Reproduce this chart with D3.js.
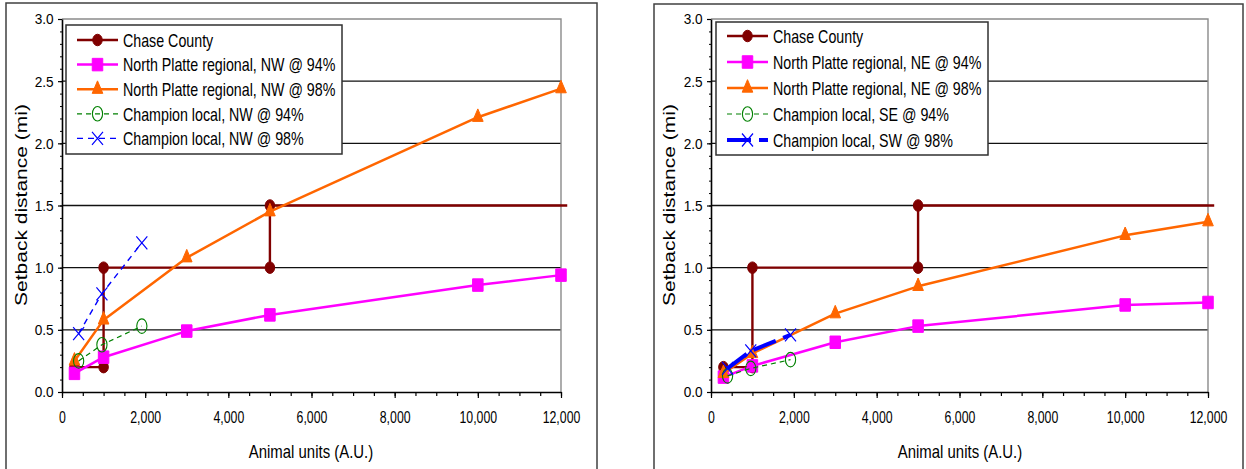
<!DOCTYPE html>
<html><head><meta charset="utf-8">
<script src="https://cdn.jsdelivr.net/npm/d3@7"></script>
<style>
html,body{margin:0;padding:0;background:#fff;}
svg{display:block;font-family:"Liberation Sans",Arial,Helvetica,sans-serif;}
text{white-space:pre;fill:#000;}
</style></head><body>
<svg id="chart" width="1246" height="469"></svg>
<script>
// ---------- data ----------
const yTickValues = [0, 0.5, 1.0, 1.5, 2.0, 2.5, 3.0];
const yTickLabels = ["0.0", "0.5", "1.0", "1.5", "2.0", "2.5", "3.0"];
const xTickValues = [0, 2000, 4000, 6000, 8000, 10000, 12000];
const xTickLabels = ["0", "2,000", "4,000", "6,000", "8,000", "10,000", "12,000"];

const chaseX = [300, 1000, 1000, 5000, 5000, 12150];
const chaseY = [0.2, 0.2, 1.0, 1.0, 1.5, 1.5];
const chaseMarked = [true, true, true, true, true, false];

const platteX = [300, 1000, 3000, 5000, 10000, 12000];
const platteNW94 = [0.15, 0.28, 0.49, 0.62, 0.86, 0.94];
const platteNW98 = [0.25, 0.58, 1.08, 1.45, 2.21, 2.44];
const platteNE94 = [0.12, 0.21, 0.40, 0.53, 0.70, 0.72];
const platteNE98 = [0.15, 0.31, 0.63, 0.85, 1.26, 1.37];

const championX = [400, 960, 1920];
const championNW94 = [0.25, 0.38, 0.53];
const championNW98 = [0.47, 0.79, 1.20];
const championSE94 = [0.13, 0.19, 0.26];
const championSW98 = [0.19, 0.33, 0.46];

const leftNames = ["Chase County", "North Platte regional, NW @ 94%", "North Platte regional, NW @ 98%",
                   "Champion local, NW @ 94%", "Champion local, NW @ 98%"];
const rightNames = ["Chase County", "North Platte regional, NE @ 94%", "North Platte regional, NE @ 98%",
                    "Champion local, SE @ 94%", "Champion local, SW @ 98%"];

const xTitle = "Animal units (A.U.)";
const yTitle = "Setback distance (mi)";

// ---------- styles ----------
const timesType = {draw(c){ c.moveTo(-5,-5); c.lineTo(5,5); c.moveTo(-5,5); c.lineTo(5,-5); }};
const markerDefs = {
  dot:    {type: d3.symbolCircle, size: Math.PI*25, sx: 0.95, sy: 1.15, filled: true},
  square: {type: d3.symbolSquare, size: 100, sx: 1.05, sy: 1.25, filled: true},
  tri:    {type: d3.symbolTriangle, size: 57.7, sx: 0.92, sy: 1.25, filled: true},
  ring:   {type: d3.symbolCircle, size: Math.PI*25, sx: 1.02, sy: 1.45, filled: false},
  times:  {type: timesType, size: 64, sx: 1.1, sy: 1.3, filled: false}
};

function seriesFor(side){
  const left = side === "left";
  return [
    {xs: chaseX, ys: chaseY, marked: chaseMarked, color: "#800000", width: 2.4, dash: null, marker: "dot", mstroke: 1},
    {xs: platteX, ys: left ? platteNW94 : platteNE94, color: "#FF00FF", width: 2.5, dash: null, marker: "square", mstroke: 1},
    {xs: platteX, ys: left ? platteNW98 : platteNE98, color: "#FF6600", width: 2.5, dash: null, marker: "tri", mstroke: 1},
    {xs: championX, ys: left ? championNW94 : championSE94, color: "#008000", width: 1.2, dash: "5,4", marker: "ring", mstroke: 1.1},
    {xs: championX, ys: left ? championNW98 : championSW98, color: "#0000FF",
      width: left ? 1.4 : 4, dash: left ? "6,5" : "24,8", marker: "times", mstroke: 1.2}
  ];
}

const panels = [
  {side: "left", names: leftNames, frame: {x: 6, y: 3, w: 591}, x0: 62, x1: 561,
   legend: {x: 66, y: 25, w: 276, h: 129, row0: 15, step: 24.6}, yTitleX: 26.5, xTitleX: 311},
  {side: "right", names: rightNames, frame: {x: 654, y: 4, w: 589}, x0: 711, x1: 1208,
   legend: {x: 716, y: 22, w: 272, h: 133, row0: 14, step: 26}, yTitleX: 675, xTitleX: 960}
];

const svg = d3.select("#chart");
const yBottom = 392, yTop = 19;

function drawMarker(g, kind, color, sw, px, py){
  const m = markerDefs[kind];
  g.append("path")
    .attr("d", d3.symbol().type(m.type).size(m.size)())
    .attr("transform", `translate(${px},${py}) scale(${m.sx},${m.sy})`)
    .attr("fill", m.filled ? color : "none")
    .attr("stroke", color)
    .attr("stroke-width", sw)
    .attr("vector-effect", "non-scaling-stroke");
}

panels.forEach(p => {
  const g = svg.append("g");
  const x = d3.scaleLinear().domain([0, 12000]).range([p.x0, p.x1]);
  const y = d3.scaleLinear().domain([0, 3]).range([yBottom, yTop]);

  // outer frame
  g.append("rect").attr("x", p.frame.x).attr("y", p.frame.y).attr("width", p.frame.w).attr("height", 520)
    .attr("fill", "none").attr("stroke", "#404040").attr("stroke-width", 1.5);

  // gridlines
  g.append("g").selectAll("line").data(yTickValues.filter(v => v > 0 && v < 3)).join("line")
    .attr("x1", x(0)).attr("x2", x(12000)).attr("y1", d => y(d)).attr("y2", d => y(d))
    .attr("stroke", "#111").attr("stroke-width", 1.3);
  // plot area top and right border
  g.append("path")
    .attr("d", `M${x(0)},${y(3)}H${x(12000)}V${y(0)}`)
    .attr("fill", "none").attr("stroke", "#8a8a8a").attr("stroke-width", 1.4);

  // minor ticks
  g.append("g").attr("transform", `translate(${x(0)},0)`)
    .call(d3.axisLeft(y).tickValues(d3.range(0, 31).map(i => i / 10)).tickSize(2).tickSizeOuter(0).tickFormat(""))
    .call(a => a.select(".domain").remove())
    .call(a => a.selectAll("line").attr("stroke", "#000").attr("stroke-width", 1));
  g.append("g").attr("transform", `translate(0,${y(0)})`)
    .call(d3.axisBottom(x).tickValues(d3.range(0, 25).map(i => i * 500)).tickSize(4).tickSizeOuter(0).tickFormat(""))
    .call(a => a.select(".domain").remove())
    .call(a => a.selectAll("line").attr("stroke", "#000").attr("stroke-width", 1.2));

  // major axes
  g.append("g").attr("transform", `translate(${x(0)},0)`)
    .call(d3.axisLeft(y).tickValues(yTickValues).tickSize(4).tickSizeOuter(0)
      .tickFormat(d => yTickLabels[yTickValues.indexOf(d)]))
    .call(a => a.select(".domain").attr("stroke", "#000").attr("stroke-width", 1.6))
    .call(a => a.selectAll("line").attr("stroke", "#000").attr("stroke-width", 1.2))
    .call(a => a.selectAll("text").attr("x", -9.6).attr("transform", "scale(0.88,1)")
      .attr("font-size", 15.5).attr("font-family", null).attr("fill", "#000"));
  g.append("g").attr("transform", `translate(0,${y(0)})`)
    .call(d3.axisBottom(x).tickValues(xTickValues).tickSize(6).tickSizeOuter(0)
      .tickFormat(d => xTickLabels[xTickValues.indexOf(d)]))
    .call(a => a.select(".domain").attr("stroke", "#000").attr("stroke-width", 1.6))
    .call(a => a.selectAll("line").attr("stroke", "#000").attr("stroke-width", 1.2))
    .call(a => a.selectAll("text").attr("y", 20).attr("transform", "scale(0.77,1)")
      .attr("font-size", 16).attr("font-family", null).attr("fill", "#000"));

  // titles
  g.append("text").attr("transform", `translate(${p.xTitleX},458) scale(0.83,1)`)
    .attr("text-anchor", "middle").attr("font-size", 18).text(xTitle);
  g.append("text").attr("transform", `translate(${p.yTitleX},205) scale(0.78,1) rotate(-90)`)
    .attr("text-anchor", "middle").attr("font-size", 21).text(yTitle);

  // series
  const series = seriesFor(p.side);
  series.forEach(s => {
    const idx = d3.range(s.xs.length);
    const line = d3.line().x(i => x(s.xs[i])).y(i => y(s.ys[i]));
    g.append("path").attr("d", line(idx)).attr("fill", "none")
      .attr("stroke", s.color).attr("stroke-width", s.width)
      .attr("stroke-dasharray", s.dash).attr("stroke-linejoin", "round");
    idx.forEach(i => {
      if (s.marked && !s.marked[i]) return;
      drawMarker(g, s.marker, s.color, s.mstroke, x(s.xs[i]), y(s.ys[i]));
    });
  });

  // legend
  const L = p.legend;
  const lg = g.append("g").attr("transform", `translate(${L.x},${L.y})`);
  lg.append("rect").attr("width", L.w).attr("height", L.h).attr("fill", "#fff")
    .attr("stroke", "#303030").attr("stroke-width", 1.5);
  series.forEach((s, i) => {
    const cy = L.row0 + i * L.step;
    lg.append("line").attr("x1", 11).attr("x2", 52).attr("y1", cy).attr("y2", cy)
      .attr("stroke", s.color).attr("stroke-width", s.width).attr("stroke-dasharray", s.dash);
    drawMarker(lg, s.marker, s.color, s.mstroke, 31.5, cy);
    lg.append("text").attr("transform", `translate(57,${cy + 6.8}) scale(0.75,1)`)
      .attr("font-size", 19).text(p.names[i]);
  });
});
</script>
</body></html>
